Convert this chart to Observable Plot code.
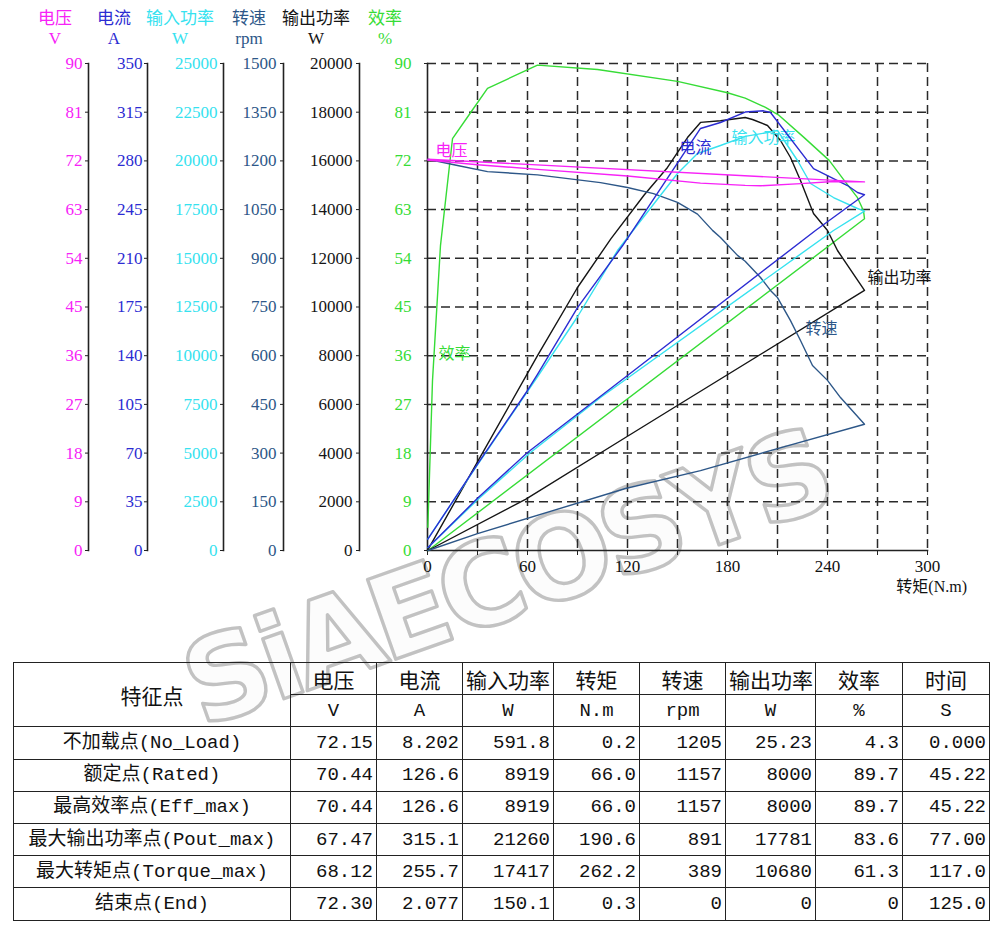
<!DOCTYPE html>
<html>
<head>
<meta charset="utf-8">
<script src="https://cdn.jsdelivr.net/npm/d3@7"></script>
<script src="https://cdn.jsdelivr.net/npm/@observablehq/plot@0.6"></script>
<style>
  body { margin: 0; background: #fff; }
  #wrap { position: relative; width: 1000px; height: 935px; overflow: hidden; background: #fff; }
  #wrap > svg { position: absolute; left: 0; top: 0; }
  .ttl { position: absolute; width: 90px; text-align: center; font-size: 17px; line-height: 20px; white-space: nowrap; }
  .ttl.cn { font-family: "Noto Sans CJK SC", sans-serif; }
  .ttl.un { font-family: "Liberation Serif", serif; }
  #xtitle { position: absolute; right: 33px; top: 577px; font-size: 16px; line-height: 20px; font-family: "Liberation Serif", "Noto Sans CJK SC", serif; color: #111; }
  #tbl { position: absolute; left: 13px; top: 662px; border-collapse: collapse; table-layout: fixed; width: 976px; }
  #tbl td, #tbl th { border: 1.5px solid #222; padding: 0 3px; height: 31.2px; font-size: 19px; font-weight: normal;
    font-family: "Liberation Mono", "Noto Sans CJK SC", monospace; color: #111; white-space: nowrap; overflow: hidden; line-height: 22px; }
  #tbl th { text-align: center; font-size: 21px; font-family: "Noto Sans CJK SC", sans-serif; }
  #tbl td.u { text-align: center; }
  #tbl td.n { text-align: right; }
  #tbl td.f { text-align: center; }
</style>
</head>
<body>
<div id="wrap"></div>
<script>
// ---------- tick labels ----------
const xTicks     = [0, 30, 60, 90, 120, 150, 180, 210, 240, 270, 300];
const voltTicks  = [0, 9, 18, 27, 36, 45, 54, 63, 72, 81, 90];
const currTicks  = [0, 35, 70, 105, 140, 175, 210, 245, 280, 315, 350];
const pinTicks   = [0, 2500, 5000, 7500, 10000, 12500, 15000, 17500, 20000, 22500, 25000];
const speedTicks = [0, 150, 300, 450, 600, 750, 900, 1050, 1200, 1350, 1500];
const poutTicks  = [0, 2000, 4000, 6000, 8000, 10000, 12000, 14000, 16000, 18000, 20000];
const effTicks   = [0, 9, 18, 27, 36, 45, 54, 63, 72, 81, 90];

// ---------- curves: [torque N.m, value], loading phase then unloading phase ----------
const voltCurve = [[0.2,72.15],[30,71.3],[66,70.44],[120,69.2],[163.8,67.9],[190.6,67.47],[200,67.4],[224,67.8],[243.6,68.2],[262.2,68.12],[0.3,72.30]];
const currCurve = [[0.2,8.2],[30,62],[60,115],[66,126.6],[90,174.6],[117,219],[163.8,303.3],[175.8,307.6],[190.6,315.1],[201.6,316],[205.8,314.8],[231.6,274.5],[240,269.5],[252,262.3],[258,257.3],[262.2,255.7],
                   [232.8,230],[120,125.8],[60,70.4],[30,37.5],[0.3,2.077]];
const pinCurve  = [[0.2,591.8],[30,4400],[66,8919],[90,12000],[114,15400],[150,19353],[162,20380],[175.8,20790],[190.6,21260],[204,21458],[210,21560],[222,20020],[229.8,18840],[243.6,18120],[258,17556],[262.2,17417],
                   [243.6,16427],[103.8,7854],[61.8,5031],[30,2600],[0.3,150.1]];
const speedCurve= [[0.2,1205],[18,1186],[36,1167],[66,1157],[103.8,1133],[120,1118],[135.6,1099],[150,1072],[162,1036],[171,986],[175.8,964],[186,909],[190.6,891],[199.8,841],[205.8,801],[210,779],[217.8,708],[223.8,647],[231,570],[240,524],[247.8,471],[262.2,389],
                   [210,314],[163.8,246],[118.8,191],[30,52],[0.3,0]];
const poutCurve = [[0.2,25.23],[30,3640],[66,8000],[90,10800],[110,12800],[130,14600],[144,15730],[156,16960],[163.8,17580],[175.8,17650],[190.6,17781],[195,17700],[204,17454],[211.8,16838],[217.8,16140],[223.8,15195],[231.6,13840],[240,13142],[246,12320],[262.2,10680],
                   [154.8,6160],[118.8,4640],[58.8,2100],[0.3,0]];
const effCurve  = [[0.2,4.3],[3,31.4],[7.8,56.4],[15,76.1],[25.8,80.9],[36,85.4],[66,89.7],[102,88.9],[150,86.7],[180,84.6],[190.6,83.6],[202.8,81.9],[211,80.4],[226,76.3],[241,72.1],[250,68.4],[258,65.2],[261.6,62.8],[262.2,61.3],[0.3,0]];

// ---------- table ----------
const tblHeads = ["电压","电流","输入功率","转矩","转速","输出功率","效率","时间"];
const tblUnits = ["V","A","W","N.m","rpm","W","%","S"];
const tblNames = ["不加载点(No_Load)","额定点(Rated)","最高效率点(Eff_max)","最大输出功率点(Pout_max)","最大转矩点(Torque_max)","结束点(End)"];
const colVolt  = ["72.15","70.44","70.44","67.47","68.12","72.30"];
const colCurr  = ["8.202","126.6","126.6","315.1","255.7","2.077"];
const colPin   = ["591.8","8919","8919","21260","17417","150.1"];
const colTorq  = ["0.2","66.0","66.0","190.6","262.2","0.3"];
const colSpeed = ["1205","1157","1157","891","389","0"];
const colPout  = ["25.23","8000","8000","17781","10680","0"];
const colEff   = ["4.3","89.7","89.7","83.6","61.3","0"];
const colTime  = ["0.000","45.22","45.22","77.00","117.0","125.0"];

// ---------- styling ----------
const C = { volt:"#f722f7", curr:"#2c2cd2", pin:"#36e2ef", speed:"#2d5788", pout:"#151515", eff:"#36dc36" };
const wrap = document.getElementById("wrap");

// watermark (beneath everything)
const wm = d3.create("svg").attr("width", 1000).attr("height", 935);
wm.append("text")
  .attr("transform", "translate(505,576) rotate(-19.5)")
  .attr("y", 42).attr("text-anchor", "middle")
  .attr("font-family", "DejaVu Sans, sans-serif").attr("font-weight", "bold").attr("font-size", 116)
  .attr("letter-spacing", -6)
  .attr("fill", "#fcfcfc").attr("stroke", "#c2c2c2").attr("stroke-width", 3.4).attr("stroke-linejoin", "round")
  .text("SiAECOSYS");
wrap.append(wm.node());

// table
const cols = [colVolt, colCurr, colPin, colTorq, colSpeed, colPout, colEff, colTime];
const widths = [277, 86, 86, 91, 86, 86, 90, 87, 87];
let html = '<table id="tbl"><colgroup>' + widths.map(w => `<col style="width:${w}px">`).join("") + '</colgroup>';
html += '<tr><th rowspan="2">特征点</th>' + tblHeads.map(h => `<th>${h}</th>`).join("") + '</tr>';
html += '<tr>' + tblUnits.map(u => `<td class="u">${u}</td>`).join("") + '</tr>';
tblNames.forEach((n, i) => {
  html += `<tr><td class="f">${n}</td>` + cols.map(c => `<td class="n">${c[i]}</td>`).join("") + '</tr>';
});
html += '</table>';
wrap.insertAdjacentHTML("beforeend", html);

// common plot settings
const common = {
  width: 1000, height: 600, marginTop: 63, marginBottom: 50,
  x: { domain: [0, 300], range: [427, 927], axis: null, label: null },
  style: { background: "transparent", fontFamily: "'Liberation Serif', serif", fontSize: "17px", overflow: "visible" }
};
const dash = { stroke: "#2a2a2a", strokeOpacity: 1, strokeWidth: 1.5, strokeDasharray: "9,5" };
const cjk = "'Noto Sans CJK SC', sans-serif";
const fmt = d => String(d);

// main plot: grid, torque axis, efficiency
const main = Plot.plot({
  ...common, marginLeft: 427, marginRight: 73,
  y: { domain: [0, 90], axis: null, label: null },
  marks: [
    Plot.gridX(xTicks.slice(1), dash),
    Plot.gridY(effTicks.slice(1), dash),
    Plot.frame({ anchor: "left", stroke: "#222", strokeWidth: 1.6 }),
    Plot.frame({ anchor: "bottom", stroke: "#222", strokeWidth: 1.6 }),
    Plot.axisX(xTicks, { anchor: "bottom", label: null, tickSize: 5, tickPadding: 4, tickFormat: d => d % 60 === 0 ? String(d) : "", stroke: "#222", fill: "#111" }),
    Plot.axisY(effTicks, { anchor: "left", label: null, tickSize: 3, tickPadding: 13, tickFormat: fmt, stroke: "#222", fill: C.eff }),
    Plot.line(effCurve, { x: d => d[0], y: d => d[1], stroke: C.eff, strokeWidth: 1.4 }),
    Plot.text([{ t: 16.2, v: 36.4, s: "效率" }], { x: "t", y: "v", text: "s", fill: C.eff, fontSize: 16, fontFamily: cjk })
  ]
});
wrap.append(main);

function series(axisX, pad, ticks, curve, color, label) {
  return Plot.plot({
    ...common, marginLeft: axisX, marginRight: 0,
    y: { domain: [0, ticks[ticks.length - 1]], axis: null, label: null },
    marks: [
      Plot.frame({ anchor: "left", stroke: "#222", strokeWidth: 1.6 }),
      Plot.axisY(ticks, { anchor: "left", label: null, tickSize: 3, tickPadding: pad, tickFormat: fmt, stroke: "#222", fill: color }),
      Plot.line(curve, { x: d => d[0], y: d => d[1], stroke: color, strokeWidth: 1.4 }),
      Plot.text([label], { x: "t", y: "v", text: "s", textAnchor: label.a || "middle", fill: color, fontSize: 16, fontFamily: cjk })
    ]
  });
}
wrap.append(series(359, 4, poutTicks, poutCurve, C.pout, { t: 264, v: 11212, s: "输出功率", a: "start" }));
wrap.append(series(283, 4, speedTicks, speedCurve, C.speed, { t: 236.4, v: 684, s: "转速" }));
wrap.append(series(223, 3, pinTicks, pinCurve, C.pin, { t: 201.6, v: 21200, s: "输入功率" }));
wrap.append(series(147, 2, currTicks, currCurve, C.curr, { t: 160.8, v: 289.6, s: "电流" }));
wrap.append(series(88, 3, voltTicks, voltCurve, C.volt, { t: 14.4, v: 73.9, s: "电压" }));

// axis titles
const titles = [["电压","V",55,C.volt],["电流","A",114,C.curr],["输入功率","W",180,C.pin],["转速","rpm",249,C.speed],["输出功率","W",316,C.pout],["效率","%",385,C.eff]];
titles.forEach(([cn, un, cx, col]) => {
  wrap.insertAdjacentHTML("beforeend",
    `<div class="ttl cn" style="left:${cx-45}px;top:7px;color:${col}">${cn}</div>` +
    `<div class="ttl un" style="left:${cx-45}px;top:29px;color:${col}">${un}</div>`);
});
wrap.insertAdjacentHTML("beforeend", `<div id="xtitle">转矩(N.m)</div>`);
</script>
</body>
</html>
